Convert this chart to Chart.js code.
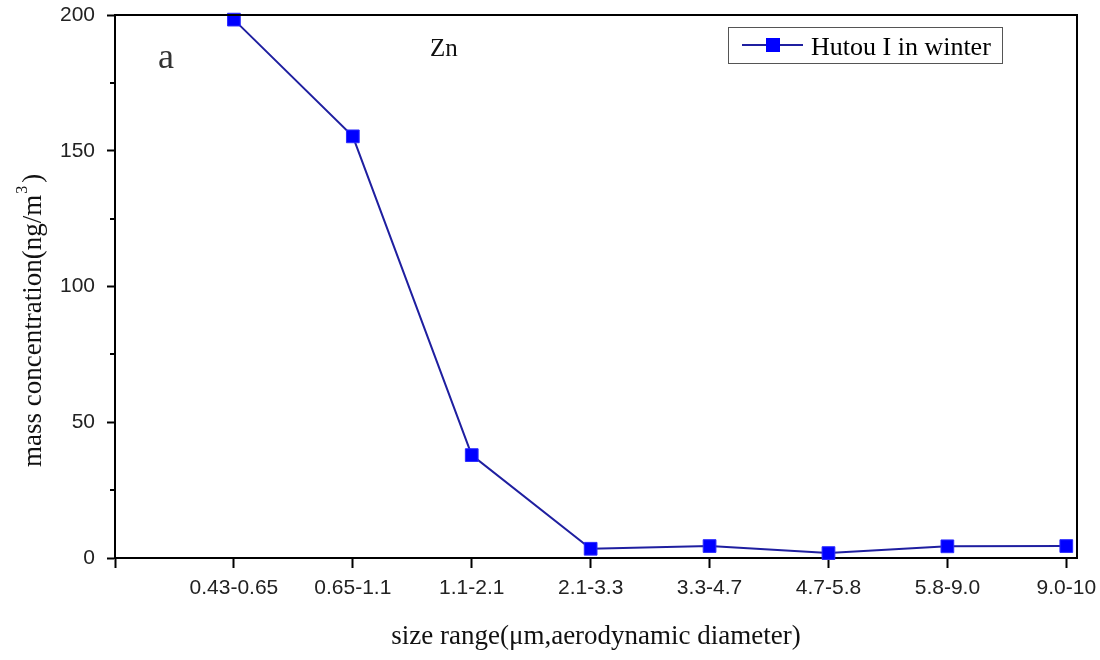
<!DOCTYPE html>
<html>
<head>
<meta charset="utf-8">
<script src="https://cdn.jsdelivr.net/npm/chart.js@4.4.0/dist/chart.umd.min.js"></script>
<style>
  body { margin: 0; background: #fff; }
  #wrap { width: 1100px; height: 660px; }
</style>
</head>
<body>
<div id="wrap"><canvas id="znChart"></canvas></div>
<script>
// data
var sizeRanges = ['0.43-0.65', '0.65-1.1', '1.1-2.1', '2.1-3.3', '3.3-4.7', '4.7-5.8', '5.8-9.0', '9.0-10'];
var znWinter = [198.3, 155.3, 37.9, 3.4, 4.4, 1.8, 4.3, 4.4];
var yTicks = [0, 50, 100, 150, 200];
var yMinorTicks = [25, 75, 125, 175];
var seriesName = 'Hutou I in winter';

var lineColor = '#1f1fa0';
var markerColor = '#0000ff';

var ctx = document.getElementById('znChart').getContext('2d');

// top/right frame, minor ticks, y title, panel letter, legend box
var extras = {
    id: 'extras',
    afterDraw: function (chart) {
        var c = chart.ctx;
        var a = chart.chartArea;
        var y = chart.scales.y;
        c.save();
        c.strokeStyle = '#000';
        c.lineWidth = 2;
        c.beginPath();
        c.moveTo(a.left, a.top);
        c.lineTo(a.right, a.top);
        c.lineTo(a.right, a.bottom);
        c.stroke();

        // minor ticks on y
        yMinorTicks.forEach(function (v) {
            var py = Math.round(y.getPixelForValue(v));
            c.beginPath();
            c.moveTo(a.left - 5, py);
            c.lineTo(a.left, py);
            c.stroke();
        });

        // y axis title with superscript
        c.save();
        c.translate(41, 467);
        c.rotate(-Math.PI / 2);
        c.fillStyle = '#111';
        c.textBaseline = 'alphabetic';
        c.font = '27px "Liberation Serif"';
        var main = 'mass concentration(ng/m';
        c.fillText(main, 0, 0);
        var w = c.measureText(main).width;
        c.font = '16px "Liberation Serif"';
        c.fillText('3', w + 1, -14);
        c.font = '27px "Liberation Serif"';
        c.fillText(')', w + 12, 0);
        c.restore();

        // panel letter and element
        c.fillStyle = '#333';
        c.font = '36px "Liberation Serif"';
        c.textBaseline = 'alphabetic';
        c.fillText('a', 158, 68);
        c.fillStyle = '#111';
        c.font = '25px "Liberation Serif"';
        c.fillText('Zn', 430, 56);

        // legend
        c.strokeStyle = '#555';
        c.lineWidth = 1;
        c.strokeRect(728.5, 27.5, 274, 36);
        c.strokeStyle = lineColor;
        c.lineWidth = 2;
        c.beginPath();
        c.moveTo(742, 45);
        c.lineTo(803, 45);
        c.stroke();
        c.fillStyle = markerColor;
        c.fillRect(766, 38, 14, 14);
        c.fillStyle = '#000';
        c.font = '26px "Liberation Serif"';
        c.fillText(seriesName, 811, 55);
        c.restore();
    }
};

var chart = new Chart(ctx, {
    type: 'line',
    data: {
        datasets: [{
            label: seriesName,
            data: sizeRanges.map(function (s, i) { return { x: i + 1, y: znWinter[i] }; }),
            borderColor: lineColor,
            borderWidth: 2,
            pointStyle: 'rect',
            pointRadius: 9,
            pointBackgroundColor: markerColor,
            pointBorderColor: '#2a2aff',
            pointBorderWidth: 1,
            tension: 0,
            clip: false
        }]
    },
    options: {
        responsive: true,
        maintainAspectRatio: false,
        animation: false,
        layout: { padding: { top: 15, right: 23, left: 0, bottom: 0 } },
        plugins: {
            legend: { display: false },
            tooltip: { enabled: false }
        },
        scales: {
            x: {
                type: 'linear',
                min: 0,
                max: 8.09,
                afterBuildTicks: function (scale) {
                    scale.ticks = [0].concat(sizeRanges.map(function (s, i) { return i + 1; }))
                        .map(function (v) { return { value: v }; });
                },
                afterFit: function (scale) {
                    scale.height = 102;
                    scale.paddingLeft = 0;
                    scale.paddingRight = 0;
                },
                ticks: {
                    autoSkip: false,
                    maxRotation: 0,
                    padding: 8,
                    color: '#222',
                    font: { family: '"Liberation Sans"', size: 21 },
                    callback: function (value) {
                        return value >= 1 ? sizeRanges[value - 1] : '';
                    }
                },
                grid: {
                    drawOnChartArea: false,
                    drawTicks: true,
                    tickLength: 10,
                    tickWidth: 2,
                    tickColor: '#000'
                },
                border: { display: true, color: '#000', width: 2 },
                title: {
                    display: true,
                    text: 'size range(\u03bcm,aerodynamic diameter)',
                    color: '#111',
                    font: { family: '"Liberation Serif"', size: 27 },
                    padding: { top: 0, bottom: 7 }
                }
            },
            y: {
                min: 0,
                max: 200,
                afterBuildTicks: function (scale) {
                    scale.ticks = yTicks.map(function (v) { return { value: v }; });
                },
                afterFit: function (scale) {
                    scale.width = 115;
                    scale.paddingTop = 0;
                    scale.paddingBottom = 0;
                },
                ticks: {
                    padding: 12,
                    color: '#222',
                    font: { family: '"Liberation Sans"', size: 21 }
                },
                grid: {
                    drawOnChartArea: false,
                    drawTicks: true,
                    tickLength: 8,
                    tickWidth: 2,
                    tickColor: '#000'
                },
                border: { display: true, color: '#000', width: 2 },
                title: { display: false }
            }
        }
    },
    plugins: [extras]
});
</script>
</body>
</html>
